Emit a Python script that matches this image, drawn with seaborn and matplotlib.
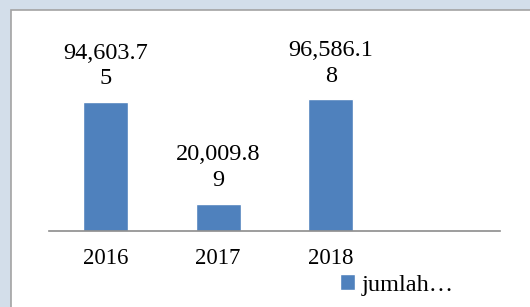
import numpy as np
import pandas as pd
import matplotlib
matplotlib.use('Agg')
import matplotlib.pyplot as plt
import seaborn as sns
from matplotlib.patches import Rectangle, Patch

# data
years = ['2016', '2017', '2018']
slots = ['2016', '2017', '2018', ' ']   # Excel chart keeps an empty 4th column
values = [94603.75, 20009.89, 96586.18]
series_name = 'jumlah…'

sns.set_theme(style='white')
plt.rcParams['font.family'] = ['Liberation Serif', 'DejaVu Serif']
plt.rcParams['text.color'] = 'black'

BAR = '#4f81bd'

df = pd.DataFrame({'tahun': years, 'nilai': values})

fig = plt.figure(figsize=(5.3, 3.07), dpi=100)
fig.patch.set_facecolor('#d3deea')

# white chart area with a grey frame (open to the right and bottom)
fig.add_artist(Rectangle((11 / 530, -0.1), 1.2, 1.1 - 10 / 307, transform=fig.transFigure,
                         facecolor='white', edgecolor='#a3a3a3', lw=1.2, zorder=0))

ax = fig.add_axes([49 / 530, 1 - 231 / 307, 451 / 530, 191 / 307])
ax.set_facecolor('none')
sns.barplot(data=df, x='tahun', y='nilai', order=slots, color=BAR,
            width=0.4, saturation=1, ax=ax)

ax.set_xlim(-0.5, 3.5)
ax.set_ylim(0, 140000)
ax.set_xlabel('')
ax.set_ylabel('')
ax.set_yticks([])
ax.tick_params(axis='x', length=0, pad=12, labelsize=16.5, colors='black')
for s in ['top', 'right', 'left']:
    ax.spines[s].set_visible(False)
ax.spines['bottom'].set_color('#8c8c8c')
ax.spines['bottom'].set_linewidth(1.2)

# wrapped data labels, as in the original chart
for i, v in enumerate(values):
    txt = f'{v:,.2f}'
    txt = txt[:8] + '\n' + txt[8:]
    ax.annotate(txt, (i, v), xytext=(0, 9), textcoords='offset points',
                ha='center', va='bottom', fontsize=17.5, linespacing=1.3,
                color='black')

fig.legend(handles=[Patch(facecolor=BAR, label=series_name)],
           loc='center left', bbox_to_anchor=(340 / 530, 1 - 285 / 307),
           frameon=False, fontsize=17.5, handlelength=0.6, handleheight=0.6,
           handletextpad=0.3, borderpad=0, borderaxespad=0, labelcolor='black')

fig.savefig('out.png', dpi=100, facecolor=fig.get_facecolor())
